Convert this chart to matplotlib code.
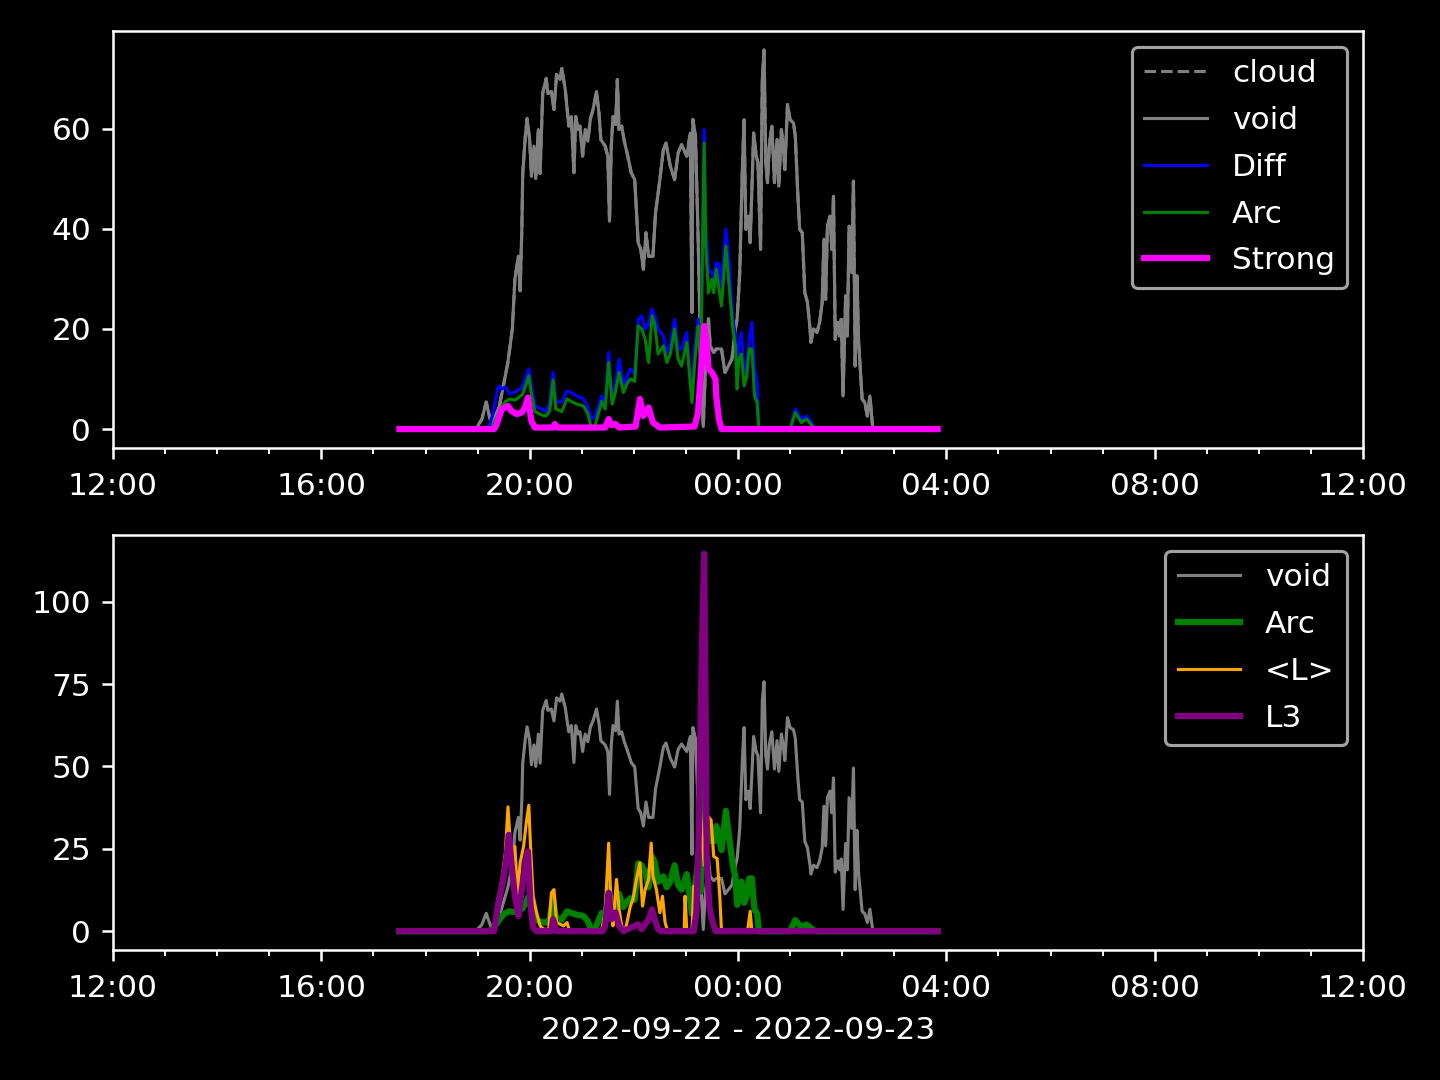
import numpy as np
import matplotlib
matplotlib.use("Agg")
import matplotlib.pyplot as plt
import matplotlib.dates as mdates

BASE = np.datetime64("2022-09-22T12:00")

# minutes after 2022-09-22 12:00
void_t = [330, 418, 425, 430, 433, 436, 440, 445, 449, 455, 460, 463, 467, 469, 471, 472,
          475, 477, 480, 482, 485, 487, 490, 492, 495, 499, 501, 505, 508, 511, 515, 517,
          521, 525, 528, 531, 533, 536, 538, 541, 544, 547, 550, 553, 557, 560, 562, 567,
          570, 572, 574, 576, 579, 581, 583, 586, 589, 593, 597, 601, 605, 608, 611, 614,
          617, 622, 625, 630, 634, 637, 642, 647, 651, 655, 661, 665, 667, 668, 671, 674,
          677, 680, 682, 686, 688, 692, 695, 701, 705, 709, 713, 717, 719, 722, 725, 727,
          729, 732, 734, 736, 738, 741, 743, 746, 748, 750, 752, 754, 756, 759, 762, 765,
          767, 770, 772, 774, 777, 780, 784, 786, 789, 791, 794, 797, 800, 803, 804, 807,
          811, 814, 817, 819, 821, 823, 826, 828, 830, 832, 835, 837, 839, 841, 844, 846,
          848, 851, 853, 855, 857, 859, 863, 866, 869, 872, 875, 877, 950]
void_v = [0, 0, 2, 5.4, 3, 1, 2.4, 4.5, 8, 13.4, 20, 30, 34.5, 27.6, 40, 51,
          58.5, 62, 57.8, 50.5, 56.5, 50, 59.8, 51, 67, 70, 67, 67.4, 63.8, 70.8, 69.8, 72,
          67.8, 60.5, 62.4, 51.2, 62.4, 59.8, 60.5, 54.5, 59.8, 57.5, 62, 63.8, 67.4, 62.8, 57.8, 56.5,
          54.5, 41.5, 56.5, 62.4, 60.8, 69.8, 59.8, 60.5, 57.5, 54.5, 51.2, 49.8, 37.2, 35.9, 31.9, 39.2,
          34.5, 34.5, 43.2, 49.8, 55.8, 57.1, 52.5, 49.8, 55.1, 56.8, 54.5, 59.1, 23.3, 61.8, 58.5, 38.5,
          15, 0.5, 10, 22, 16.6, 15.3, 16, 16, 11.3, 12.6, 14, 20, 22, 31.2, 51.8, 61.8,
          39.9, 42.5, 37.2, 47.8, 59.1, 54.5, 53.2, 35.9, 69.8, 75.7, 53.2, 49.2, 56.5, 60.5, 49.2, 57.8,
          48.5, 59.8, 56.5, 51.8, 64.8, 61.8, 61.1, 58.5, 46.5, 39.9, 39.2, 27.2, 25.3, 20, 17.3, 20,
          19.3, 21.3, 25.3, 37.9, 25.9, 40.5, 42.5, 35.9, 46.5, 17.9, 21.3, 18.6, 21.9, 6.6, 26.6, 18.6,
          40.5, 31.2, 49.5, 12.6, 30.6, 17.3, 6, 5.3, 2.6, 6.6, 0.6, 0, 0]

cloud_t = void_t
cloud_v = void_v

da_t = [330, 432, 437, 444, 448, 452, 457, 463, 469, 472, 476, 479, 482, 486, 494, 499,
        503, 507, 510, 517, 523, 528, 534, 542, 547, 551, 555, 563, 567, 571, 575, 579,
        583, 588, 592, 596, 601, 605, 609, 613, 617, 621, 624, 628, 634, 638, 642, 647,
        651, 655, 661, 667, 670, 674, 677, 681, 683, 686, 690, 692, 695, 698, 701, 706,
        710, 714, 717, 719, 721, 724, 727, 730, 733, 736, 739, 742, 744, 780, 786, 793,
        799, 807, 810, 950]
diff_v = [0, 0, 2.6, 8.6, 8, 8.4, 7, 7.4, 8, 8.6, 10.6, 12, 8.6, 4.6, 4, 3.4,
          5.4, 11.3, 5.4, 5.4, 7.6, 7.3, 6.6, 6, 4.5, 2, 2.5, 6.6, 5, 15.3, 6, 9,
          14, 8.6, 10.5, 12, 11, 21.9, 22.6, 19.9, 21, 24, 22.6, 20, 18.6, 15.3, 17, 21.9,
          16, 16, 19.3, 6, 16, 21.9, 14, 59.8, 40, 31.9, 31.2, 30, 33.2, 33, 28.6, 39.9,
          33, 22, 18.6, 13.3, 16.6, 19.3, 10.6, 13, 17.9, 21.3, 12, 9.3, 0, 0, 4, 2,
          2.6, 0.7, 0, 0]
arc_v = [0, 0, 0.5, 3, 4.5, 5.5, 6, 5.8, 6.5, 7, 9, 10.6, 7, 3.5, 2.8, 2.6,
         3.6, 9.8, 4, 3.5, 6, 5.5, 5, 4.6, 3, 0.3, 0.5, 5.5, 4, 13.3, 5, 7.5,
         11.3, 7.3, 9, 10, 9.5, 20.6, 20, 18, 13.3, 22.6, 21, 15, 16.6, 13.3, 15, 20,
         14, 12.6, 17.3, 5.3, 13, 20.6, 12, 57.1, 36, 27.2, 29.9, 27.2, 31.9, 28, 24.6, 36.5,
         28, 20, 16.6, 8, 14, 15, 8.6, 10.5, 16, 16, 6.6, 5.3, 0, 0, 3.3, 1.3,
         2, 0.3, 0, 0]

strong_t = [330, 439, 442, 448, 455, 459, 465, 471, 475, 478, 482, 486, 507, 509, 512, 567,
            571, 574, 579, 583, 602, 607, 611, 617, 622, 630, 670, 674, 678, 681, 684, 686,
            690, 694, 695, 698, 701, 950]
strong_v = [0, 0, 1, 4, 4.6, 3.6, 3, 3.3, 4.5, 6.3, 1.6, 0.3, 0.3, 1, 0.3, 0.3,
            2, 0.8, 1, 0.3, 0.5, 6, 2.6, 4.3, 1.3, 0.3, 0.5, 3.3, 13.3, 20.6, 17.3, 12,
            11.3, 10, 6.6, 2, 0, 0]

lmean_t = [330, 439, 442, 448, 452, 455, 457, 460, 463, 466, 469, 473, 476, 479, 481, 484,
           488, 492, 496, 502, 505, 508, 511, 519, 523, 526, 563, 567, 571, 574, 576, 580,
           583, 586, 590, 596, 599, 603, 607, 610, 613, 617, 620, 622, 626, 630, 633, 636,
           639, 658, 659, 661, 667, 669, 671, 672, 676, 681, 685, 689, 692, 696, 699, 701,
           731, 734, 736, 950]
lmean_v = [0, 0, 7.6, 15.7, 23.7, 37.7, 29.7, 19.7, 25.7, 10.6, 20.7, 25.7, 32.7, 38.2, 25.7, 10.6,
           5.6, 1.6, 0.6, 0.5, 11.6, 12.6, 2.6, 1.6, 2.6, 0, 0.5, 5.6, 26.7, 5.6, 1.6, 15.7,
           6.6, 1.6, 0, 7.6, 9.6, 15.7, 20.7, 7.6, 12.6, 15.7, 26.7, 16.7, 12.6, 5.6, 10.6, 2.6,
           0, 0, 10.6, 0, 0, 13.6, 2, 15, 39.8, 20, 35, 33.7, 22.7, 22, 10.6, 0,
           0, 6, 0, 0]

l3_t = [330, 439, 444, 449, 453, 456, 459, 463, 467, 471, 475, 478, 481, 484, 488, 505,
        507, 511, 564, 567, 571, 574, 579, 583, 588, 597, 605, 609, 617, 621, 624, 628,
        631, 669, 672, 675, 678, 681, 683, 684, 687, 690, 694, 950]
l3_v = [0, 0, 8.6, 14.7, 21.7, 29.2, 20.7, 10.6, 4.6, 12.6, 20.7, 24.2, 7.6, 1.1, 0, 0,
        3.6, 0, 0, 1.6, 11.6, 3.6, 5.6, 1.6, 0, 1.1, 2.1, 0.6, 3.6, 6.6, 3.6, 0.6,
        0, 0, 5.6, 30.7, 80.9, 114.5, 60.8, 20.7, 7.6, 3.6, 0, 0]

xlabel = "2022-09-22 - 2022-09-23"


def tt(m):
    return BASE + np.array(m, dtype="timedelta64[m]")


plt.style.use("dark_background")
fig, (ax1, ax2) = plt.subplots(2, 1, figsize=(6.4, 4.8), dpi=225)
ax1.set_position([113 / 1440, 1 - 448 / 1080, 1250 / 1440, 417 / 1080])
ax2.set_position([113 / 1440, 1 - 950 / 1080, 1250 / 1440, 415 / 1080])

ax1.plot(tt(cloud_t), cloud_v, color="gray", lw=1, ls="--", label="cloud")
ax1.plot(tt(void_t), void_v, color="gray", lw=1, label="void")
ax1.plot(tt(da_t), diff_v, color="blue", lw=1, label="Diff")
ax1.plot(tt(da_t), arc_v, color="green", lw=1, label="Arc")
ax1.plot(tt(strong_t), strong_v, color="magenta", lw=2, label="Strong")
ax1.legend(loc="upper right", labelspacing=0.57)

ax2.plot(tt(void_t), void_v, color="gray", lw=1, label="void")
ax2.plot(tt(da_t), arc_v, color="green", lw=2, label="Arc")
ax2.plot(tt(lmean_t), lmean_v, color="orange", lw=1, label="<L>")
ax2.plot(tt(l3_t), l3_v, color="purple", lw=2, label="L3")
ax2.legend(loc="upper right", labelspacing=0.57)
ax2.set_xlabel(xlabel)

for ax in (ax1, ax2):
    ax.set_xlim(BASE, BASE + np.timedelta64(24, "h"))
    ax.xaxis.set_major_locator(mdates.HourLocator(byhour=[0, 4, 8, 12, 16, 20]))
    ax.xaxis.set_minor_locator(mdates.HourLocator())
    ax.xaxis.set_major_formatter(mdates.DateFormatter("%H:%M"))
    ax.tick_params(axis="x", which="major", pad=4.2)

fig.savefig("out.png", dpi=225)
